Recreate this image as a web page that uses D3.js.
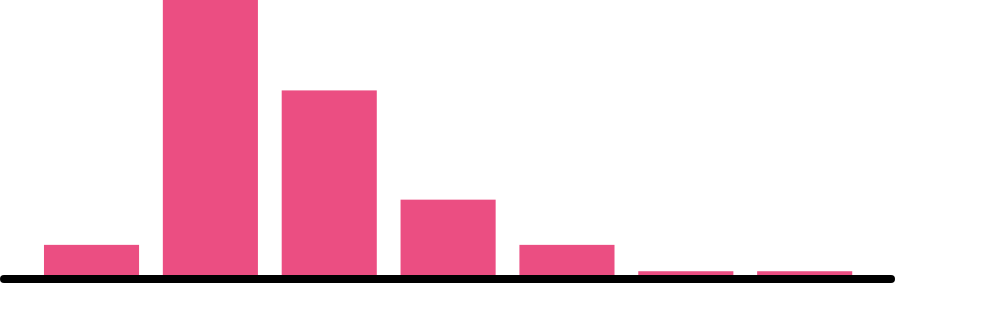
<!DOCTYPE html>
<html>
<head>
<meta charset="utf-8">
<script src="https://cdn.jsdelivr.net/npm/d3@7"></script>
<style>
  body { margin: 0; background: #fff; }
  svg { display: block; }
</style>
</head>
<body>
<div id="viz"></div>
<script>
// values
const categories = ["a", "b", "c", "d", "e", "f", "g"];
const counts = [8, 73, 49, 20, 8, 1, 1];

const width = 1000;
const height = 324;
const baseY = 275;

const svg = d3.select("#viz").append("svg")
    .attr("width", width)
    .attr("height", height);

const x = d3.scaleBand()
    .domain(categories)
    .range([20.2, 876])
    .padding(0.2);

const y = d3.scaleLinear()
    .domain([0, 73])
    .range([baseY, 0]);

svg.selectAll("rect.bar")
    .data(counts)
    .enter()
    .append("rect")
    .attr("class", "bar")
    .attr("x", (d, i) => x(categories[i]))
    .attr("y", d => y(d))
    .attr("width", x.bandwidth())
    .attr("height", d => baseY - y(d))
    .attr("fill", "#eb4e82");

// baseline
svg.append("line")
    .attr("x1", 4)
    .attr("x2", 891)
    .attr("y1", baseY + 4)
    .attr("y2", baseY + 4)
    .attr("stroke", "#000")
    .attr("stroke-width", 8)
    .attr("stroke-linecap", "round");
</script>
</body>
</html>
